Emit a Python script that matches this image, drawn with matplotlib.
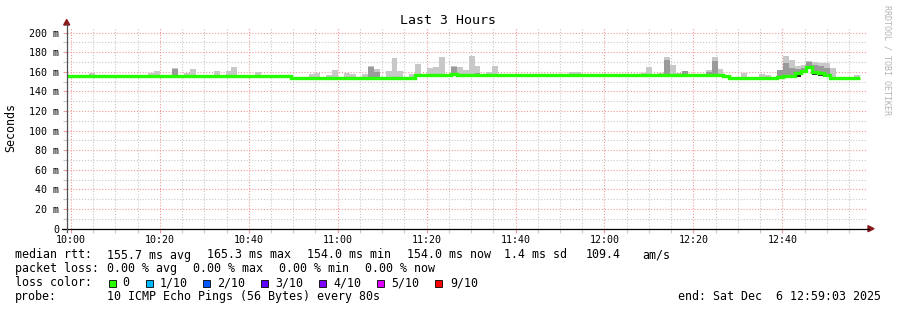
import matplotlib
matplotlib.use("Agg")
import matplotlib.pyplot as plt
from matplotlib.ticker import FixedLocator
from matplotlib.patches import Rectangle, Polygon
from matplotlib.lines import Line2D
import numpy as np

plt.rcParams['font.family'] = ['DejaVu Sans Mono']

# ---------------- data ----------------
# minutes after 10:00; one sample every 80 s
sample_step_min = 80 / 60
first_edge_min = -1.2263

median_rtt = [
    156.3, 156.3, 156.3, 156.3, 156.3, 156.3, 156.3, 156.3, 156.3, 156.3,
    156.3, 156.3, 156.3, 156.3, 156.3, 156.3, 156.3, 156.3, 156.3, 156.3,
    156.3, 156.3, 156.3, 156.3, 156.3, 156.3, 156.3, 156.3, 156.3, 156.3,
    156.3, 156.3, 156.3, 156.3, 156.3, 156.3, 156.3, 155.5, 154.2, 154.2,
    154.2, 154.2, 154.2, 154.2, 154.2, 154.2, 154.2, 154.2, 154.2, 154.2,
    154.2, 154.2, 154.2, 154.2, 154.2, 154.2, 154.2, 154.2, 154.2, 156.5,
    156.5, 156.5, 156.5, 156.5, 156.5, 157.5, 156.5, 156.5, 156.5, 156.5,
    156.5, 156.5, 156.5, 156.5, 156.5, 156.5, 156.5, 156.5, 156.5, 156.5,
    156.5, 156.5, 156.5, 156.5, 156.5, 156.5, 156.5, 156.5, 156.5, 156.5,
    156.5, 156.5, 156.5, 156.5, 156.5, 156.5, 156.5, 156.5, 156.5, 156.5,
    156.5, 156.5, 156.5, 156.5, 156.5, 156.5, 156.5, 156.5, 156.5, 156.5,
    156.5, 155.3, 154.2, 154.2, 154.2, 154.2, 154.2, 154.2, 154.2, 154.2,
    154.8, 156.0, 156.0, 158.4, 161.4, 165.3, 160.0, 158.4, 157.0, 154.0,
    154.0, 154.0, 154.0, 154.0,
]

smoke_max = [
    157.2, 157.0, 157.2, 157.0, 158.7, 157.0, 157.2, 157.0, 157.0, 157.2,
    157.0, 157.0, 157.2, 157.0, 159.0, 161.0, 157.0, 157.0, 164.3, 157.2,
    159.0, 163.0, 157.0, 157.2, 157.0, 161.0, 157.0, 161.0, 165.0, 157.0,
    157.0, 157.2, 160.0, 157.0, 157.0, 157.2, 157.0, 156.5, 155.0, 155.0,
    155.2, 158.0, 159.0, 155.0, 156.5, 162.0, 155.0, 159.0, 158.0, 155.0,
    158.0, 165.5, 162.8, 155.0, 160.5, 174.0, 160.5, 155.2, 158.0, 168.0,
    157.5, 164.0, 165.0, 175.5, 157.5, 166.5, 165.0, 162.0, 176.5, 165.5,
    157.5, 160.0, 166.5, 157.5, 157.5, 157.5, 157.5, 157.5, 157.5, 157.5,
    157.5, 157.5, 157.5, 157.5, 157.5, 160.0, 160.0, 157.5, 157.5, 157.5,
    157.5, 157.5, 157.5, 157.5, 157.5, 157.5, 157.5, 159.0, 164.6, 157.5,
    159.0, 175.0, 167.0, 159.0, 161.0, 157.5, 157.5, 157.5, 162.0, 175.0,
    163.0, 156.0, 155.0, 155.0, 159.0, 155.0, 155.0, 158.0, 157.0, 155.0,
    162.0, 176.0, 172.0, 166.0, 167.0, 171.0, 170.0, 169.0, 169.0, 164.0,
    155.0, 155.0, 155.0, 156.5,
]

mid_idx = [18, 51, 52, 65, 69, 101, 104, 108, 109, 120, 121, 122, 123, 124, 125, 126, 127, 128]
mid_top = [162.7, 165.0, 160.0, 164.5, 158.5, 172.0, 161.0, 160.0, 171.0,
           162.0, 169.0, 164.0, 163.0, 164.0, 170.0, 167.0, 166.0, 164.0]

dark_idx = [121, 122, 123, 126, 127]
dark_lo = [153.3, 153.3, 154.8, 156.8, 155.5]
dark_hi = [156.0, 156.0, 158.0, 159.0, 158.0]

x_tick_pos = [0, 20, 40, 60, 80, 100, 120, 140, 160]
x_tick_labels = ["10:00", "10:20", "10:40", "11:00", "11:20", "11:40", "12:00", "12:20", "12:40"]
y_tick_pos = [0, 20, 40, 60, 80, 100, 120, 140, 160, 180, 200]
y_tick_labels = ["0", "20 m", "40 m", "60 m", "80 m", "100 m", "120 m", "140 m", "160 m", "180 m", "200 m"]

loss_labels = ["0", "1/10", "2/10", "3/10", "4/10", "5/10", "9/10"]
loss_colors = ["#26ff00", "#00b8ff", "#0059ff", "#5e00ff", "#7e00ff", "#dd00ff", "#ff0000"]

# ---------------- figure ----------------
W, H = 897, 310
fig = plt.figure(figsize=(W / 100, H / 100), dpi=100)
fig.patch.set_facecolor('white')

def fx(px):
    return px / W

def fy(py):
    return 1 - py / H

ax_l, ax_r, ax_t, ax_b = 66.7, 867.0, 27.0, 228.7
ax = fig.add_axes([fx(ax_l), fy(ax_b), (ax_r - ax_l) / W, (ax_b - ax_t) / H])
ax.set_facecolor('white')
ax.set_xlim(-0.95, 179.05)
ax.set_ylim(0, 205.8)
for s in ax.spines.values():
    s.set_visible(False)

major_c = '#ef9a9a'
minor_c = '#c8c8c8'
ax.xaxis.set_major_locator(FixedLocator(x_tick_pos))
ax.xaxis.set_minor_locator(FixedLocator([m for m in range(0, 180, 5) if m % 20 != 0]))
ax.yaxis.set_major_locator(FixedLocator(y_tick_pos))
ax.yaxis.set_minor_locator(FixedLocator([v for v in range(10, 206, 20)]))
ax.set_xticklabels(x_tick_labels)
ax.set_yticklabels(y_tick_labels)
ax.grid(which='major', color=major_c, linestyle=(0, (1, 1.6)), linewidth=0.8)
ax.grid(which='minor', color=minor_c, linestyle=(0, (1, 1.6)), linewidth=0.8)
ax.set_axisbelow(True)
ax.tick_params(which='both', length=3, width=0.8)
ax.tick_params(which='major', color=major_c)
ax.tick_params(which='minor', color=minor_c)
ax.tick_params(axis='x', which='major', labelsize=7.2, pad=1.5)
ax.tick_params(axis='y', which='major', labelsize=7.2, pad=2.5)
for lab in ax.get_xticklabels() + ax.get_yticklabels():
    lab.set_color('#000000')

# data
med = np.array(median_rtt)
top = np.array(smoke_max)
edges = first_edge_min + np.arange(len(med) + 1) * sample_step_min
centers = (edges[:-1] + edges[1:]) / 2
ax.bar(centers, top - med, bottom=med, width=sample_step_min, color='#c8c8c8',
       linewidth=0, zorder=2)
mi = np.array(mid_idx)
ax.bar(centers[mi], np.array(mid_top) - med[mi], bottom=med[mi], width=sample_step_min,
       color='#9a9a9a', linewidth=0, zorder=3)
di = np.array(dark_idx)
ax.bar(centers[di], np.array(dark_hi) - np.array(dark_lo), bottom=np.array(dark_lo),
       width=sample_step_min, color='#202020', linewidth=0, zorder=3)
ax.stairs(med, edges, baseline=None, color=loss_colors[0], linewidth=2.4, zorder=5)

# axes lines and arrows
fig.add_artist(Line2D([fx(62), fx(869)], [fy(ax_b), fy(ax_b)], color='#000000', lw=0.9))
fig.add_artist(Line2D([fx(ax_l), fx(ax_l)], [fy(ax_b + 3), fy(24)], color='#505050', lw=0.9))
arrow_c = '#8b1a1a'
fig.add_artist(Polygon([[fx(ax_l - 3), fy(25)], [fx(ax_l + 3), fy(25)], [fx(ax_l), fy(19.5)]],
                       closed=True, color=arrow_c))
fig.add_artist(Polygon([[fx(868), fy(ax_b - 3)], [fx(868), fy(ax_b + 3)], [fx(874), fy(ax_b)]],
                       closed=True, color=arrow_c))

# titles
fig.text(fx(448), fy(23.5), "Last 3 Hours", ha='center', va='baseline', fontsize=9.5)
fig.text(fx(11), fy(127), "Seconds", ha='center', va='center', rotation=90, fontsize=8.4)
fig.text(fx(886.5), fy(60), "RRDTOOL / TOBI OETIKER", ha='center', va='center', rotation=270,
         fontsize=6, color='#b4b4b4')

# legend / comments
fs = 8.4
line1 = [(16, "median rtt:"), (107.3, "155.7 ms avg"), (207.3, "165.3 ms max"),
         (307.3, "154.0 ms min"), (407.3, "154.0 ms now"), (504.3, "1.4 ms sd"),
         (586.7, "109.4"), (642.7, "am/s")]
line2 = [(16, "packet loss:"), (107.3, "0.00 % avg"), (193.3, "0.00 % max"),
         (279.3, "0.00 % min"), (365.7, "0.00 % now")]
line4 = [(16, "probe:"), (107.3, "10 ICMP Echo Pings (56 Bytes) every 80s"),
         (678.3, "end: Sat Dec  6 12:59:03 2025")]
for yb, items in [(258.5, line1), (272.3, line2), (300.2, line4)]:
    for xp, t in items:
        fig.text(fx(xp - 0.7), fy(yb), t, ha='left', va='baseline', fontsize=fs)

fig.text(fx(15.3), fy(286.3), "loss color:", ha='left', va='baseline', fontsize=fs)
box_x = [109.0, 145.7, 203.3, 261.0, 319.3, 376.7, 435.0]
lab_x = [123.3, 160.0, 218.3, 276.0, 334.0, 391.7, 450.7]
for bx, lx, c, t in zip(box_x, lab_x, loss_colors, loss_labels):
    fig.add_artist(Rectangle((fx(bx), fy(286.5)), 7 / W, 7 / H, facecolor=c,
                             edgecolor='#000000', linewidth=0.6))
    fig.text(fx(lx - 0.7), fy(286.3), t, ha='left', va='baseline', fontsize=fs)

fig.savefig("out.png", dpi=100, facecolor='white')
